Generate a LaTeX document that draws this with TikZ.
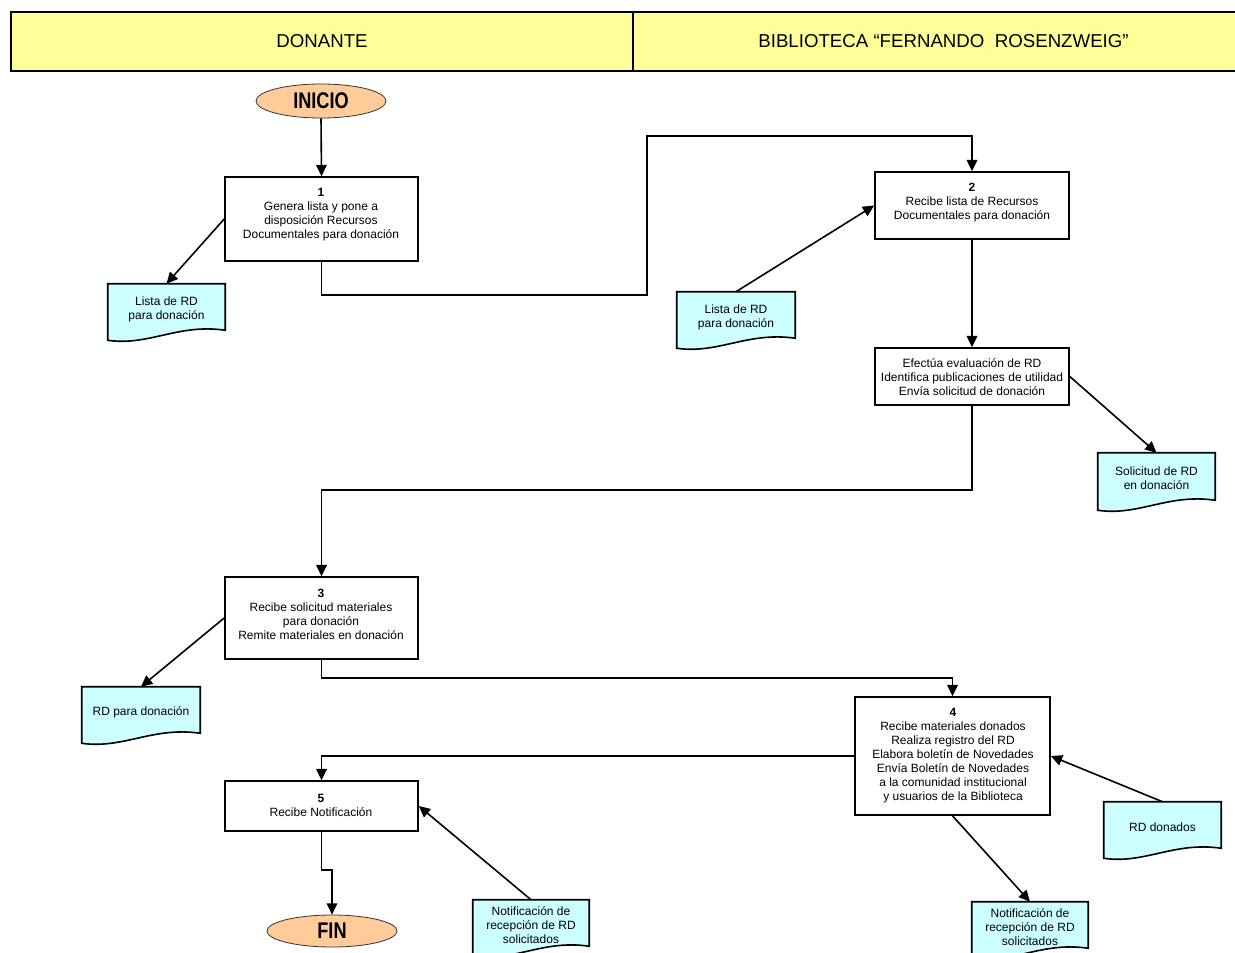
\documentclass[tikz,border=0pt]{standalone}
\usepackage{fontspec}
\setmainfont{Liberation Sans}
\newfontfamily\termfont[FakeStretch=0.8]{Liberation Sans}
\usetikzlibrary{arrows.meta,shapes.geometric,fit,calc}

\definecolor{lanefill}{HTML}{FFFF99}
\definecolor{docfill}{HTML}{CCFFFF}
\definecolor{termfill}{HTML}{FFCC99}

\tikzset{
  lane/.style={draw=black, line width=1.4pt, fill=lanefill, inner sep=0pt},
  lanetext/.style={font=\fontsize{14}{16}\selectfont},
  proc/.style={draw=black, line width=1.2pt, fill=white, inner sep=0pt},
  txt/.style={align=center, inner sep=0pt, font=\fontsize{9}{10.5}\selectfont},
  term/.style={ellipse, draw=black!80, line width=0.6pt, fill=termfill, inner sep=0pt,
    font=\termfont\bfseries\fontsize{17}{20}\selectfont},
  docbox/.style={draw=black, line width=1.2pt, fill=docfill},
  arr/.style={draw=black, line width=1.2pt, -{Triangle[length=8.5pt,width=8pt]}},
}

% document symbol with a wavy lower edge: name, x1, y1, x2, y2, text
\newcommand\docsym[6]{%
  \node[inner sep=0pt, fit={(#2,#3) (#4,#5)}] (#1) {};
  \draw[docbox] (#1.north west) -- (#1.north east) -- ($(#1.south east)+(0,-10)$)
    .. controls ($(#1.south west)!0.6!(#1.south east)+(0,-17)$)
       and ($(#1.south west)!0.35!(#1.south east)+(0,6)$) .. (#1.south west) -- cycle;
  \node[txt] at ($(#1.center)+(0,-3)$) {#6};
}

\begin{document}
\begin{tikzpicture}[x=0.75pt, y=-0.75pt]
  \clip (0,0) rectangle (1235,953);
  \fill[white] (0,0) rectangle (1235,953);

  % swimlane headers
  \node[lane, fit={(11,12) (633,71)}] (laneA) {};
  \node[lanetext] at (laneA.center) {DONANTE};
  \node[lane, fit={(633,12) (1254,71)}] (laneB) {};
  \node[lanetext] at (laneB.center) {BIBLIOTECA “FERNANDO\ \ ROSENZWEIG”};

  % terminals
  \node[term, minimum width=97.5pt, minimum height=25.5pt] (inicio) at (321,101) {INICIO};
  \node[term, minimum width=97.5pt, minimum height=24pt] (fin) at (332,931) {FIN};

  % process boxes
  \node[proc, fit={(225,177) (418,261)}] (p1) {};
  \node[txt] at (321,215) {\textbf{1}\\Genera lista y pone a\\disposición Recursos\\Documentales para donación};

  \node[proc, fit={(875,172) (1069,239)}] (p2) {};
  \node[txt] at (972,203) {\textbf{2}\\Recibe lista de Recursos\\Documentales para donación};

  \node[proc, fit={(875,348) (1069,405)}] (p2b) {};
  \node[txt] at (972,377) {Efectúa evaluación de RD\\Identifica publicaciones de utilidad\\Envía solicitud de donación};

  \node[proc, fit={(225,577) (418,659)}] (p3) {};
  \node[txt] at (321,614) {\textbf{3}\\Recibe solicitud materiales\\para donación\\Remite materiales en donación};

  \node[proc, fit={(855,697) (1050,815)}] (p4) {};
  \node[txt] at (953,756) {\textbf{4}\\Recibe materiales donados\\Realiza registro del RD\\Elabora boletín de Novedades\\Envía Boletín de Novedades\\a la comunidad institucional\\y usuarios de la Biblioteca};

  \node[proc, fit={(225,781) (418,831)}] (p5) {};
  \node[txt] at (321,805) {\textbf{5}\\Recibe Notificación};

  % documents
  \docsym{d1}{108}{284}{225}{340}{Lista de RD\\para donación}
  \docsym{d2}{677}{292}{795}{348}{Lista de RD\\para donación}
  \docsym{d3}{1098}{453}{1215}{510}{Solicitud de RD\\en donación}
  \docsym{d4}{82}{687}{200}{743}{RD para donación}
  \docsym{d5}{1104}{802}{1221}{858}{RD donados}
  \docsym{d6}{972}{902}{1088}{958}{Notificación de\\recepción de RD\\solicitados}
  \docsym{d7}{473}{900}{589}{956}{Notificación de\\recepción de RD\\solicitados}

  % flow
  \draw[arr] (inicio.south) -- (p1.north);
  \draw[arr] (p1.south) -- (p1.south |- 0,295) -| (647,136) -| (p2.north);
  \draw[arr] (p2.south) -- (p2b.north);
  \draw[arr] (p2b.south) -- (p2b.south |- 0,490) -| (p3.north);
  \draw[arr] (p3.south) -- (p3.south |- 0,678) -| (p4.north);
  \draw[arr] (p4.west) -| (p5.north);
  \draw[arr] (p5.south) -- (p5.south |- 0,870) -| (fin.north);

  % document links
  \draw[arr] (p1.west) -- (d1.north);
  \draw[arr] (d2.north) -- (p2.west);
  \draw[arr] (p2b.east) -- (d3.north);
  \draw[arr] (p3.west) -- (d4.north);
  \draw[arr] (d5.north) -- (p4.east);
  \draw[arr] (p4.south) -- (d6.north);
  \draw[arr] (d7.north) -- (p5.east);
\end{tikzpicture}
\end{document}
